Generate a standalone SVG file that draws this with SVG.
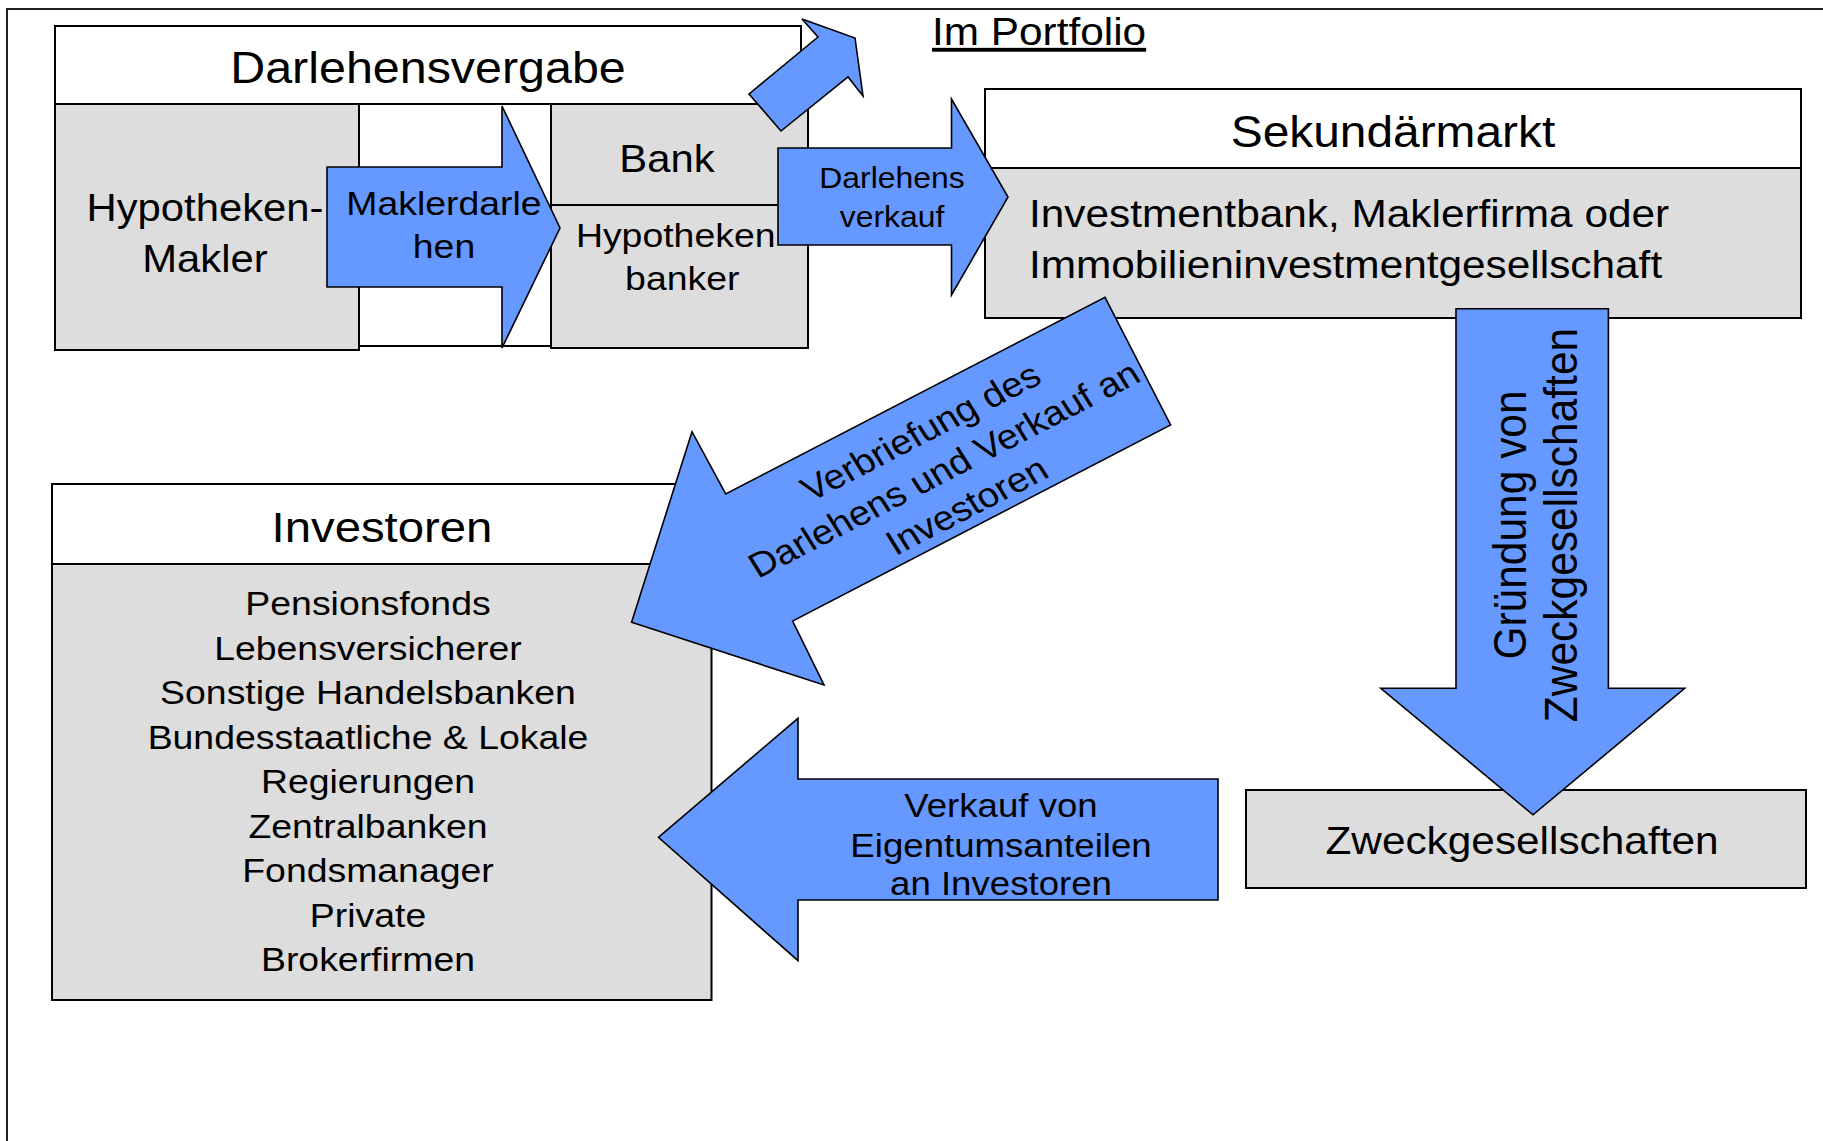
<svg xmlns="http://www.w3.org/2000/svg" width="1823" height="1141" viewBox="0 0 1823 1141">
<style>
.t{font-family:"Liberation Sans",Arial,Helvetica,sans-serif;fill:#000}
.m{text-anchor:middle}
.box{fill:#dddddd;stroke:#000;stroke-width:2}
.hdr{fill:#ffffff;stroke:#000;stroke-width:2}
.arr{fill:#6699ff;stroke:#000;stroke-width:1.6;stroke-linejoin:miter}
</style>
<rect width="1823" height="1141" fill="#ffffff"/>
<path d="M7,1150 V9 H1830" fill="none" stroke="#222" stroke-width="2"/>

<g id="darlehensvergabe">
  <rect class="hdr" x="55" y="26" width="746" height="78"/>
  <rect class="box" x="55" y="104" width="304" height="246"/>
  <rect class="hdr" x="359" y="104" width="192" height="242"/>
  <text class="t m" x="428" y="83" font-size="44" transform="matrix(1.1 0 0 1 -42.8 0)">Darlehensvergabe</text>
  <text class="t m" font-size="38" transform="matrix(1.1 0 0 1 -20.5 0)"><tspan x="205" y="221">Hypotheken-</tspan><tspan x="205" y="272">Makler</tspan></text>
</g>

<g id="bank">
  <rect class="box" x="551" y="104" width="257" height="101"/>
  <rect class="box" x="551" y="205" width="257" height="143"/>
  <text class="t m" x="667" y="172" font-size="38" transform="matrix(1.1 0 0 1 -66.7 0)">Bank</text>
  <text class="t m" font-size="34" transform="matrix(1.1 0 0 1 -67.9 0)"><tspan x="676" y="247">Hypotheken</tspan><tspan x="682" y="290">banker</tspan></text>
</g>

<g id="im-portfolio">
  <text class="t" x="932" y="45" font-size="38.5" text-decoration="underline" transform="matrix(1.1 0 0 1 -93.2 0)">Im Portfolio</text>
</g>

<g id="sekundaermarkt">
  <rect class="hdr" x="985" y="89" width="816" height="79"/>
  <rect class="box" x="985" y="168" width="816" height="150"/>
  <text class="t m" x="1393" y="147" font-size="43.5" transform="matrix(1.1 0 0 1 -139.3 0)">Sekundärmarkt</text>
  <text class="t" font-size="38.5" transform="matrix(1.1 0 0 1 -102.9 0)"><tspan x="1029" y="227">Investmentbank, Maklerfirma oder</tspan><tspan x="1029" y="278">Immobilieninvestmentgesellschaft</tspan></text>
</g>

<g id="investoren">
  <rect class="hdr" x="52" y="484" width="659.5" height="80"/>
  <rect class="box" x="52" y="564" width="659.5" height="436"/>
  <text class="t m" x="382" y="542" font-size="43" transform="matrix(1.1 0 0 1 -38.2 0)">Investoren</text>
  <text class="t m" font-size="34" transform="matrix(1.1 0 0 1 -36.8 0)"><tspan x="368" y="615.4">Pensionsfonds</tspan><tspan x="368" y="659.9">Lebensversicherer</tspan><tspan x="368" y="704.4">Sonstige Handelsbanken</tspan><tspan x="368" y="748.9">Bundesstaatliche &amp; Lokale</tspan><tspan x="368" y="793.4">Regierungen</tspan><tspan x="368" y="837.9">Zentralbanken</tspan><tspan x="368" y="882.4">Fondsmanager</tspan><tspan x="368" y="926.9">Private</tspan><tspan x="368" y="971.4">Brokerfirmen</tspan></text>
</g>

<g id="zweckgesellschaften">
  <rect class="box" x="1246" y="790" width="560" height="98"/>
  <text class="t m" x="1522" y="854" font-size="38.5" transform="matrix(1.1 0 0 1 -152.2 0)">Zweckgesellschaften</text>
</g>

<g id="connectors">
  <g id="arrow-maklerdarlehen">
    <polygon class="arr" points="327,167 502,167 502,106 560,228 502,348 502,287 327,287"/>
    <text class="t m" font-size="34" transform="matrix(1.1 0 0 1 -44.4 0)"><tspan x="444" y="215">Maklerdarle</tspan><tspan x="444" y="258">hen</tspan></text>
  </g>
  <g id="arrow-darlehensverkauf">
    <polygon class="arr" points="778,148 951.5,148 951.5,99 1008,197 951.5,295 951.5,245 778,245"/>
    <text class="t m" font-size="29" transform="matrix(1.1 0 0 1 -89.2 0)"><tspan x="892" y="188">Darlehens</tspan><tspan x="892" y="227">verkauf</tspan></text>
  </g>
  <g id="arrow-portfolio">
    <polygon class="arr" points="749,94 818,37 802,19 855,38 863,96 848,77 781,131"/>
  </g>
  <g id="arrow-verbriefung">
    <polygon class="arr" points="631.6,622.3 692,431.7 725.7,494 1105,297.3 1170.6,425 792.6,621 824,685"/>
    <text class="t m" font-size="34.8" transform="translate(945,471) scale(1.1,1) rotate(-29.6)"><tspan x="0" y="-33">Verbriefung des</tspan><tspan x="0" y="10">Darlehens und Verkauf an</tspan><tspan x="0" y="52">Investoren</tspan></text>
  </g>
  <g id="arrow-gruendung">
    <polygon class="arr" points="1456,308.7 1608.4,308.7 1608.4,688.3 1684.7,688.3 1533,814.8 1380.8,688.3 1456,688.3"/>
    <text class="t m" font-size="42.5" transform="translate(1498,525) scale(1.1,1) rotate(-90)"><tspan x="0" y="25.3">Gründung von</tspan><tspan x="0" y="72.2">Zweckgesellschaften</tspan></text>
  </g>
  <g id="arrow-verkauf">
    <polygon class="arr" points="658.4,837.3 798,718.3 798,779 1218,779 1218,900 798,900 798,960.7"/>
    <text class="t m" font-size="33.3" transform="matrix(1.1 0 0 1 -100.1 0)"><tspan x="1001" y="817">Verkauf von</tspan><tspan x="1001" y="857">Eigentumsanteilen</tspan><tspan x="1001" y="895">an Investoren</tspan></text>
  </g>
</g>
</svg>
